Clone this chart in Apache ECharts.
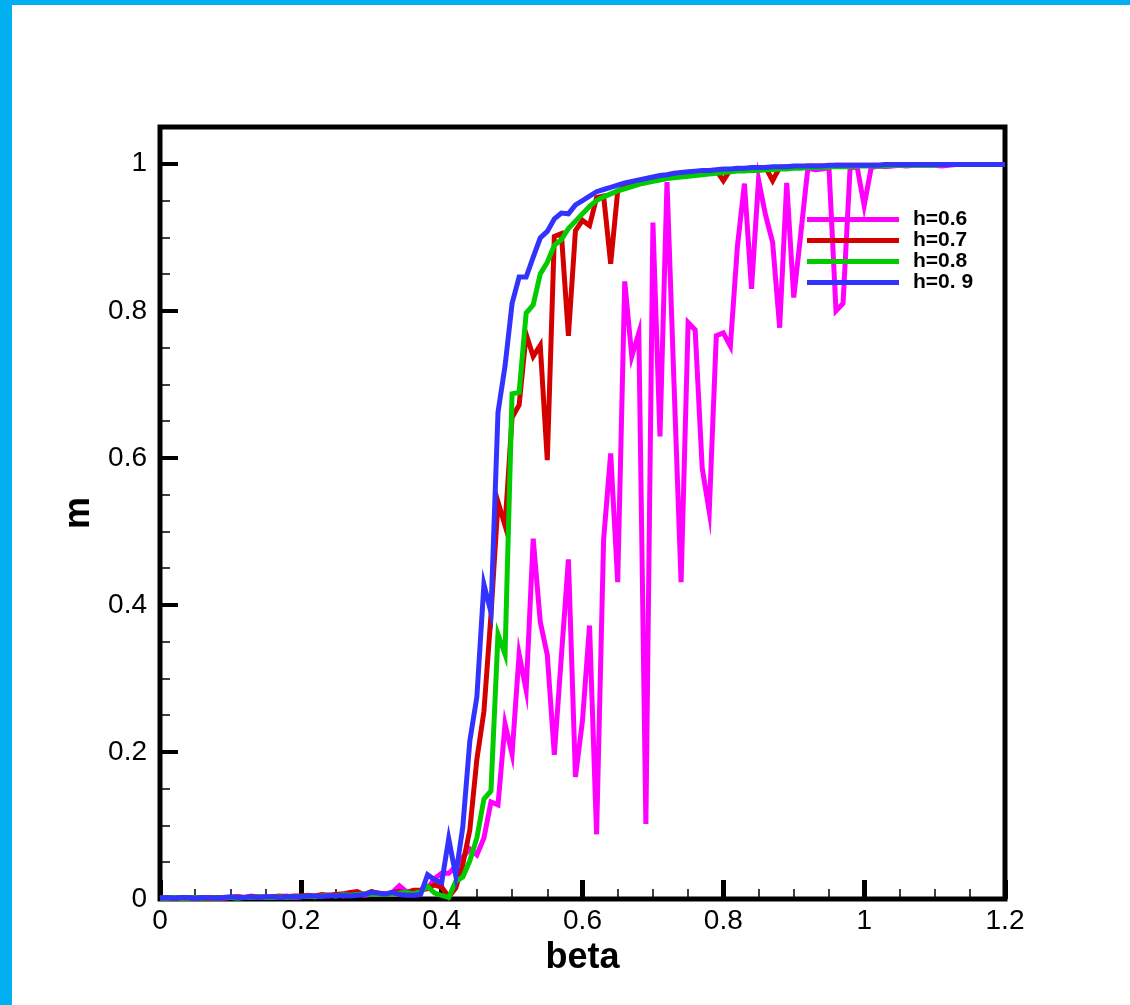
<!DOCTYPE html>
<html>
<head>
<meta charset="utf-8">
<script src="https://cdn.jsdelivr.net/npm/echarts@6/dist/echarts.min.js"></script>
<style>
html, body { margin: 0; padding: 0; background: #fff; }
#chart { width: 1130px; height: 1005px; }
.bar-left { position: absolute; left: 0; top: 0; width: 12px; height: 1005px; background: #00b0f0; }
.bar-top { position: absolute; left: 0; top: 0; width: 1130px; height: 5px; background: #00b0f0; }
</style>
</head>
<body>
<div id="chart"></div>
<div class="bar-left"></div>
<div class="bar-top"></div>
<script>
// beta (x)
var beta = [
	0, 0.01, 0.02, 0.03, 0.04, 0.05, 0.06, 0.07, 0.08, 0.09,
	0.1, 0.11, 0.12, 0.13, 0.14, 0.15, 0.16, 0.17, 0.18, 0.19,
	0.2, 0.21, 0.22, 0.23, 0.24, 0.25, 0.26, 0.27, 0.28, 0.29,
	0.3, 0.31, 0.32, 0.33, 0.34, 0.35, 0.36, 0.37, 0.38, 0.39,
	0.4, 0.41, 0.42, 0.43, 0.44, 0.45, 0.46, 0.47, 0.48, 0.49,
	0.5, 0.51, 0.52, 0.53, 0.54, 0.55, 0.56, 0.57, 0.58, 0.59,
	0.6, 0.61, 0.62, 0.63, 0.64, 0.65, 0.66, 0.67, 0.68, 0.69,
	0.7, 0.71, 0.72, 0.73, 0.74, 0.75, 0.76, 0.77, 0.78, 0.79,
	0.8, 0.81, 0.82, 0.83, 0.84, 0.85, 0.86, 0.87, 0.88, 0.89,
	0.9, 0.91, 0.92, 0.93, 0.94, 0.95, 0.96, 0.97, 0.98, 0.99,
	1, 1.01, 1.02, 1.03, 1.04, 1.05, 1.06, 1.07, 1.08, 1.09,
	1.1, 1.11, 1.12, 1.13, 1.14, 1.15, 1.16, 1.17, 1.18, 1.19, 1.2
];

// m, h=0.6
var m06 = [
	0.001, 0.001, 0.002, 0.001, 0.002, 0.001, 0.002, 0.001, 0.002, 0.001,
	0.002, 0.003, 0.002, 0.004, 0.002, 0.003, 0.002, 0.003, 0.004, 0.002,
	0.003, 0.004, 0.003, 0.005, 0.004, 0.006, 0.004, 0.005, 0.007, 0.005,
	0.006, 0.008, 0.006, 0.009, 0.018, 0.010, 0.011, 0.012, 0.014, 0.028,
	0.035, 0.035, 0.044, 0.057, 0.068, 0.060, 0.083, 0.132, 0.128, 0.238,
	0.197, 0.333, 0.284, 0.490, 0.377, 0.332, 0.196, 0.330, 0.462, 0.166,
	0.243, 0.372, 0.088, 0.489, 0.606, 0.431, 0.840, 0.738, 0.770, 0.102,
	0.920, 0.629, 0.975, 0.700, 0.431, 0.784, 0.774, 0.586, 0.527, 0.766,
	0.770, 0.752, 0.888, 0.973, 0.830, 0.978, 0.930, 0.893, 0.777, 0.974,
	0.818, 0.905, 0.994, 0.992, 0.993, 0.995, 0.800, 0.810, 0.994, 0.996,
	0.943, 0.995, 0.997, 0.996, 0.997, 0.998, 0.997, 0.998, 0.998, 0.998,
	0.998, 0.997, 0.998, 0.999, 0.999, 0.999, 0.999, 0.999, 0.999, 0.999, 0.999
];

// m, h=0.7
var m07 = [
	0.001, 0.002, 0.001, 0.002, 0.001, 0.002, 0.002, 0.001, 0.002, 0.002,
	0.002, 0.003, 0.002, 0.003, 0.003, 0.002, 0.003, 0.004, 0.003, 0.004,
	0.004, 0.005, 0.004, 0.006, 0.005, 0.006, 0.007, 0.009, 0.010, 0.006,
	0.010, 0.008, 0.006, 0.009, 0.010, 0.008, 0.012, 0.012, 0.015, 0.019,
	0.016, 0.003, 0.015, 0.047, 0.094, 0.190, 0.255, 0.386, 0.540, 0.508,
	0.655, 0.672, 0.768, 0.738, 0.753, 0.597, 0.901, 0.905, 0.766, 0.909,
	0.923, 0.916, 0.954, 0.956, 0.864, 0.963, 0.968, 0.972, 0.975, 0.978,
	0.980, 0.982, 0.983, 0.985, 0.986, 0.987, 0.988, 0.989, 0.990, 0.991,
	0.977, 0.992, 0.993, 0.993, 0.994, 0.994, 0.995, 0.977, 0.995, 0.996,
	0.996, 0.996, 0.997, 0.997, 0.997, 0.997, 0.998, 0.998, 0.998, 0.998,
	0.998, 0.998, 0.998, 0.998, 0.999, 0.999, 0.999, 0.999, 0.999, 0.999,
	0.999, 0.999, 0.999, 0.999, 0.999, 0.999, 0.999, 0.999, 0.999, 0.999, 0.999
];

// m, h=0.8
var m08 = [
	0.001, 0.001, 0.002, 0.001, 0.001, 0.002, 0.001, 0.002, 0.001, 0.002,
	0.002, 0.001, 0.002, 0.002, 0.003, 0.002, 0.002, 0.003, 0.002, 0.003,
	0.003, 0.004, 0.003, 0.004, 0.005, 0.004, 0.006, 0.005, 0.006, 0.007,
	0.006, 0.007, 0.006, 0.007, 0.008, 0.009, 0.007, 0.010, 0.017, 0.008,
	0.005, 0.002, 0.024, 0.030, 0.052, 0.083, 0.136, 0.147, 0.360, 0.333,
	0.687, 0.689, 0.797, 0.808, 0.850, 0.866, 0.889, 0.897, 0.912, 0.922,
	0.932, 0.942, 0.950, 0.955, 0.959, 0.963, 0.966, 0.969, 0.972, 0.974,
	0.976, 0.978, 0.980, 0.981, 0.982, 0.983, 0.984, 0.985, 0.986, 0.987,
	0.988, 0.989, 0.990, 0.990, 0.991, 0.991, 0.992, 0.992, 0.993, 0.993,
	0.994, 0.994, 0.995, 0.995, 0.995, 0.996, 0.996, 0.996, 0.996, 0.997,
	0.997, 0.997, 0.997, 0.997, 0.998, 0.998, 0.998, 0.998, 0.998, 0.998,
	0.998, 0.999, 0.999, 0.999, 0.999, 0.999, 0.999, 0.999, 0.999, 0.999, 0.999
];

// m, h=0.9
var m09 = [
	0.001, 0.002, 0.001, 0.002, 0.002, 0.001, 0.002, 0.002, 0.001, 0.002,
	0.003, 0.002, 0.002, 0.003, 0.002, 0.003, 0.003, 0.002, 0.003, 0.003,
	0.003, 0.004, 0.004, 0.003, 0.005, 0.004, 0.005, 0.004, 0.005, 0.006,
	0.009, 0.008, 0.007, 0.009, 0.006, 0.005, 0.005, 0.006, 0.033, 0.026,
	0.022, 0.082, 0.032, 0.098, 0.215, 0.275, 0.428, 0.390, 0.662, 0.725,
	0.810, 0.846, 0.846, 0.873, 0.899, 0.908, 0.925, 0.933, 0.932, 0.944,
	0.950, 0.956, 0.962, 0.965, 0.968, 0.971, 0.974, 0.976, 0.978, 0.980,
	0.982, 0.984, 0.985, 0.987, 0.988, 0.989, 0.990, 0.991, 0.991, 0.992,
	0.993, 0.993, 0.994, 0.994, 0.995, 0.995, 0.995, 0.996, 0.996, 0.996,
	0.997, 0.997, 0.997, 0.997, 0.997, 0.998, 0.998, 0.998, 0.998, 0.998,
	0.998, 0.998, 0.998, 0.999, 0.999, 0.999, 0.999, 0.999, 0.999, 0.999,
	0.999, 0.999, 0.999, 0.999, 0.999, 0.999, 0.999, 0.999, 0.999, 0.999, 0.999
];

var names = ['h=0.6', 'h=0.7', 'h=0.8', 'h=0. 9'];
var colors = ['#ff00ff', '#d40000', '#00cc00', '#3333ff'];
var font = '"Liberation Sans", Arial, Helvetica, sans-serif';

var myChart = echarts.init(document.getElementById('chart'));

function pairs(ys) {
	var result = [];
	for (var i = 0; i < beta.length; i++) {
		result.push([beta[i], ys[i]]);
	}
	return result;
}

function makeSeries(idx, ys) {
	return {
		name : names[idx],
		type : 'line',
		data : pairs(ys),
		symbol : 'none',
		showSymbol : false,
		lineStyle : {
			width : 5,
			color : colors[idx],
			join : 'miter'
		},
		itemStyle : {
			color : colors[idx]
		}
	};
}

var option = {
	animation : false,
	backgroundColor : '#fff',
	textStyle : {
		fontFamily : font
	},
	grid : {
		left : 160,
		top : 127,
		right : 125,
		bottom : 106,
		show : true,
		borderColor : '#000',
		borderWidth : 5,
		backgroundColor : '#fff'
	},
	legend : {
		orient : 'vertical',
		left : 802,
		top : 204,
		icon : 'rect',
		itemWidth : 92,
		itemHeight : 5,
		itemGap : 0,
		data : names,
		textStyle : {
			fontFamily : font,
			fontSize : 21,
			fontWeight : 'bold',
			color : '#000',
			lineHeight : 20,
			padding : [ 0, 0, 0, 9 ]
		}
	},
	xAxis : [ {
		type : 'value',
		min : 0,
		max : 1.2,
		interval : 0.2,
		position : 'bottom',
		name : 'beta',
		nameLocation : 'middle',
		nameGap : 34,
		nameTextStyle : {
			fontFamily : font,
			fontSize : 36,
			fontWeight : 'bold',
			color : '#000'
		},
		axisLine : {
			show : false,
			onZero : false
		},
		axisTick : {
			inside : true,
			length : 19,
			lineStyle : {
				color : '#000',
				width : 5
			}
		},
		axisLabel : {
			fontFamily : font,
			fontSize : 28,
			color : '#000',
			margin : 8
		},
		splitLine : {
			show : false
		}
	}, {
		// minor ticks
		type : 'value',
		min : 0,
		max : 1.2,
		interval : 0.05,
		position : 'bottom',
		axisLine : {
			show : false,
			onZero : false
		},
		axisTick : {
			inside : true,
			length : 10,
			lineStyle : {
				color : '#000',
				width : 1.5
			}
		},
		axisLabel : {
			show : false
		},
		splitLine : {
			show : false
		}
	} ],
	yAxis : [ {
		type : 'value',
		min : 0,
		max : 1.05,
		interval : 0.2,
		position : 'left',
		name : 'm',
		nameLocation : 'middle',
		nameGap : 62,
		nameTextStyle : {
			fontFamily : font,
			fontSize : 36,
			fontWeight : 'bold',
			color : '#000'
		},
		axisLine : {
			show : false,
			onZero : false
		},
		axisTick : {
			inside : true,
			length : 18,
			lineStyle : {
				color : '#000',
				width : 4
			}
		},
		axisLabel : {
			fontFamily : font,
			fontSize : 28,
			color : '#000',
			margin : 13,
			formatter : function(v) {
				var k = v * 5;
				return Math.abs(k - Math.round(k)) < 1e-6 ? String(Math.round(k) / 5) : '';
			}
		},
		splitLine : {
			show : false
		}
	}, {
		// minor ticks
		type : 'value',
		min : 0,
		max : 1.05,
		interval : 0.05,
		position : 'left',
		axisLine : {
			show : false,
			onZero : false
		},
		axisTick : {
			inside : true,
			length : 10,
			lineStyle : {
				color : '#000',
				width : 1.5
			}
		},
		axisLabel : {
			show : false
		},
		splitLine : {
			show : false
		}
	} ],
	series : [ makeSeries(0, m06), makeSeries(1, m07), makeSeries(2, m08),
			makeSeries(3, m09) ]
};

myChart.setOption(option);
</script>
</body>
</html>
